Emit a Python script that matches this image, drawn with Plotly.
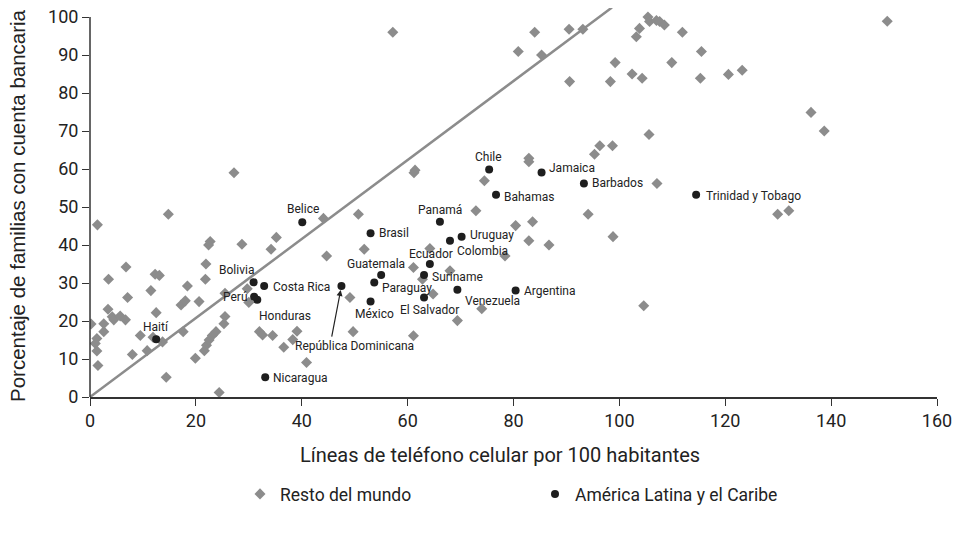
import plotly.graph_objects as go

# ---------------- data ----------------
rest_x = [27.2, 1.4, 14.8, 44.1, 50.7, 22.7, 22.4, 28.7, 35.2, 34.2, 51.8, 44.7, 21.9, 6.8,
          12.3, 13.1, 3.5, 21.8, 18.4, 11.5, 7.1, 29.7, 17.2, 18.0, 20.6, 25.5, 3.4, 30.0,
          0.2, 2.6, 4.2, 4.5, 5.7, 6.7, 2.6, 1.3, 1.0, 1.3, 1.5, 9.5, 8.0, 10.8, 12.5, 11.9,
          13.7, 17.6, 14.4, 19.9, 21.6, 22.0, 22.5, 23.1, 23.8, 25.3, 25.5, 24.4, 32.0, 32.6,
          34.5, 36.6, 38.3, 39.1, 40.9, 49.7, 49.1, 57.2, 61.4, 61.2, 82.9, 82.9, 74.5, 72.9,
          80.4, 83.6, 82.9, 86.7, 78.4, 64.2, 61.1, 68.0, 62.8, 64.8, 69.4, 74.0, 61.1, 80.9,
          84.0, 85.3, 90.5, 93.1, 90.6, 98.3, 99.2, 102.4, 104.3, 103.2, 103.8, 105.4, 105.7,
          107.0, 107.6, 108.5, 111.9, 109.9, 115.5, 115.3, 120.6, 123.2, 105.6, 96.3, 98.7,
          95.3, 107.1, 150.6, 136.2, 138.7, 129.9, 132.0, 94.1, 98.8, 104.6]
rest_y = [59.0, 45.3, 48.1, 47.0, 48.1, 40.9, 40.0, 40.2, 42.0, 38.9, 38.9, 37.1, 35.0, 34.2,
          32.3, 32.0, 31.0, 31.0, 29.2, 28.0, 26.2, 28.5, 24.2, 25.3, 25.1, 27.3, 23.1, 24.9,
          19.2, 19.3, 21.1, 20.3, 21.3, 20.3, 17.2, 15.4, 14.1, 12.1, 8.3, 16.2, 11.2, 12.2, 22.2, 15.7,
          14.5, 17.2, 5.2, 10.2, 12.2, 13.6, 15.0, 16.2, 17.2, 19.3, 21.2, 1.2, 17.2, 16.3,
          16.2, 13.1, 15.1, 17.3, 9.1, 17.2, 26.2, 96.0, 59.7, 59.0, 62.8, 61.9, 56.9, 49.0,
          45.1, 46.1, 41.1, 40.0, 37.1, 39.1, 34.1, 33.2, 31.0, 27.1, 20.1, 23.2, 16.1, 90.9,
          96.0, 90.0, 96.8, 96.8, 83.0, 83.0, 88.0, 85.0, 83.9, 94.8, 97.0, 100.0, 98.8,
          99.1, 98.8, 97.9, 96.0, 88.0, 90.9, 83.9, 84.9, 86.0, 69.1, 66.1, 66.1,
          63.9, 56.2, 98.9, 74.9, 70.0, 48.1, 49.0, 48.1, 42.2, 24.0]

lac_names = ["Belice", "Bolivia", "Costa Rica", "Perú", "Honduras", "Haití", "Nicaragua",
             "República Dominicana", "Brasil", "México", "Guatemala", "Paraguay", "Chile",
             "Jamaica", "Bahamas", "Panamá", "Uruguay", "Colombia", "Ecuador", "Suriname",
             "El Salvador", "Venezuela", "Argentina", "Barbados", "Trinidad y Tobago"]
lac_x = [40.1, 30.9, 32.9, 31.0, 31.6, 12.5, 33.1, 47.5, 53.0, 53.0, 55.0, 53.7, 75.4,
         85.3, 76.7, 66.1, 70.2, 68.0, 64.2, 63.1, 63.1, 69.4, 80.4, 93.3, 114.5]
lac_y = [46.0, 30.2, 29.2, 26.4, 25.6, 15.2, 5.2, 29.2, 43.1, 25.1, 32.1, 30.1, 59.9,
         59.1, 53.2, 46.1, 42.2, 41.1, 35.0, 32.1, 26.2, 28.2, 28.0, 56.2, 53.2]

trend_x = [0, 98.6]
trend_y = [0, 102.5]

x_ticks = [0, 20, 40, 60, 80, 100, 120, 140, 160]
y_ticks = [0, 10, 20, 30, 40, 50, 60, 70, 80, 90, 100]

x_title = "Líneas de teléfono celular por 100 habitantes"
y_title = "Porcentaje de familias con cuenta bancaria"
legend_rest = "Resto del mundo"
legend_lac = "América Latina y el Caribe"

# ---------------- style ----------------
GRAY = "#8c8c8c"
DARK = "#1e1e1e"
AXIS = "#333333"
TXT = "#222222"
NARROW = "Roboto, Liberation Sans, sans-serif"
REG = "Liberation Sans, Arial, sans-serif"

W, H = 955, 533
# plot area on screen: x 90..937, y 8..397
L, R, T, B = 90, W - 937, 8, H - 397
PW, PH = W - L - R, H - T - B


def px(sx):  # screen x -> paper x
    return (sx - L) / PW


def py(sy):  # screen y -> paper y
    return (H - B - sy) / PH


# label placement: (xanchor, xshift px, yshift px)
label_pos = {
    "Belice": ("center", 1, 13), "Bolivia": ("right", 2, 12), "Costa Rica": ("left", 7, -1),
    "Perú": ("right", -4, 0), "Honduras": ("left", 0, -16), "Haití": ("center", 0, 12),
    "Nicaragua": ("left", 6, -1), "República Dominicana": ("center", 13, -60),
    "Brasil": ("left", 6, 0), "Guatemala": ("center", -5, 11), "Paraguay": ("left", 6, -5),
    "México": ("center", 4, -12), "Ecuador": ("center", 1, 10), "Colombia": ("left", 5, -10),
    "Uruguay": ("left", 6, 2), "Panamá": ("center", 0, 12), "Chile": ("center", -1, 12),
    "Jamaica": ("left", 5, 4), "Bahamas": ("left", 6, -2), "Suriname": ("left", 6, -2),
    "El Salvador": ("center", 5, -13), "Venezuela": ("left", 6, -11),
    "Argentina": ("left", 6, 0), "Barbados": ("left", 6, 0), "Trinidad y Tobago": ("left", 8, -1),
}

fig = go.Figure()

fig.add_trace(go.Scatter(x=trend_x, y=trend_y, mode="lines",
                         line=dict(color=GRAY, width=2.5), showlegend=False, hoverinfo="skip"))

fig.add_trace(go.Scatter(x=rest_x, y=rest_y, mode="markers", name=legend_rest,
                         marker=dict(symbol="diamond", size=8.5, color=GRAY, line=dict(width=0))))

fig.add_trace(go.Scatter(x=lac_x, y=lac_y, mode="markers", name=legend_lac, text=lac_names,
                         marker=dict(symbol="circle", size=8, color=DARK, line=dict(width=0))))

for n, xv, yv in zip(lac_names, lac_x, lac_y):
    xa, xs, ys = label_pos[n]
    fig.add_annotation(x=xv, y=yv, text=n, showarrow=False, xanchor=xa, yanchor="middle",
                       xshift=xs, yshift=ys,
                       font=dict(family=NARROW, size=12, color=TXT))

# arrow for República Dominicana
i_rd = lac_names.index("República Dominicana")
fig.add_annotation(x=lac_x[i_rd], y=lac_y[i_rd], text="", showarrow=True,
                   ax=-10, ay=52, axref="pixel", ayref="pixel",
                   arrowhead=2, arrowsize=1, arrowwidth=1.2, arrowcolor=TXT, standoff=4)

# y-axis line only from 0 to 100
fig.add_shape(type="line", xref="paper", yref="y", x0=0, x1=0, y0=0, y1=100,
              line=dict(color=AXIS, width=1.5))

# axis titles
fig.add_annotation(xref="paper", yref="paper", x=px(500), y=py(455),
                   text=x_title, showarrow=False, xanchor="center", yanchor="middle",
                   font=dict(family=NARROW, size=20, color=TXT))
fig.add_annotation(xref="paper", yref="paper", x=px(18), y=py(206),
                   text=y_title, showarrow=False, xanchor="center", yanchor="middle",
                   textangle=-90, font=dict(family=REG, size=20.5, color=TXT))

fig.update_layout(
    width=W, height=H,
    margin=dict(l=L, r=R, t=T, b=B, pad=0),
    paper_bgcolor="white", plot_bgcolor="white",
    showlegend=True,
    legend=dict(orientation="h", x=px(240), y=py(494),
                xanchor="left", yanchor="middle",
                font=dict(family=NARROW, size=17.5, color=TXT),
                entrywidth=250, entrywidthmode="pixels", itemwidth=30),
    xaxis=dict(range=[0, 160], tickvals=x_ticks, showgrid=False, zeroline=False, automargin=False,
               showline=True, linecolor=AXIS, linewidth=1.5,
               ticks="outside", ticklen=7, tickwidth=1.3, tickcolor=AXIS,
               ticklabeloverflow="allow",
               tickfont=dict(family=NARROW, size=18, color=TXT)),
    yaxis=dict(range=[0, (397 - 8) / 3.8], tickvals=y_ticks, showgrid=False, zeroline=False,
               automargin=False, showline=False,
               ticks="outside", ticklen=7, tickwidth=1.3, tickcolor=AXIS,
               ticklabeloverflow="allow",
               tickfont=dict(family=NARROW, size=18, color=TXT)),
)

# remove the default page margin so the figure fills the 955x533 window exactly
fig.write_html("out.html", config={"displayModeBar": False},
               post_script="document.body.style.margin='0px';")
